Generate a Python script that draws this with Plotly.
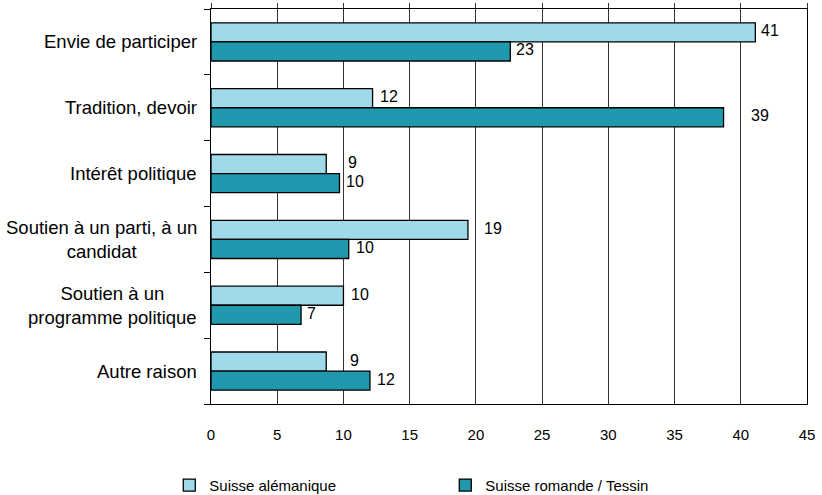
import plotly.graph_objects as go

# Motivation for voting, in percent
categories = [
    "Envie de participer",
    "Tradition, devoir",
    "Intérêt politique",
    "Soutien à un parti, à un<br>candidat",
    "Soutien à un<br>programme politique",
    "Autre raison",
]
series_names = ["Suisse alémanique", "Suisse romande / Tessin"]
values_de = [41.1, 12.2, 8.7, 19.4, 10.0, 8.7]
values_fr = [22.6, 38.7, 9.7, 10.4, 6.8, 12.0]
x_ticks = [0, 5, 10, 15, 20, 25, 30, 35, 40, 45]

# label placement nudges (pixels) to the right of each bar end
gap_de = [4, 5, 20, 14, 6, 22]
gap_fr = [4, 25, 5, 5, 4, 5]

color_de = "#9fd9ea"
color_fr = "#2098ae"
font_family = "Liberation Sans, Arial, sans-serif"

positions = list(range(len(categories)))
bar_w = 0.29

fig = go.Figure()
for name, vals, col in [(series_names[0], values_de, color_de),
                        (series_names[1], values_fr, color_fr)]:
    fig.add_trace(go.Bar(
        y=positions, x=vals, orientation="h", name=name,
        width=bar_w,
        marker=dict(color=col, line=dict(color="#000000", width=1.3)),
        hoverinfo="skip",
    ))

annotations = []
# value labels
for i in positions:
    for vals, gaps, off in [(values_de, gap_de, -bar_w / 2), (values_fr, gap_fr, bar_w / 2)]:
        annotations.append(dict(
            x=vals[i], y=i + off, xref="x", yref="y",
            text=str(round(vals[i])), showarrow=False,
            xanchor="left", yanchor="middle", xshift=gaps[i], yshift=1.5,
            font=dict(family=font_family, size=16, color="#000000"),
        ))
# centred category labels
for i, cat in enumerate(categories):
    annotations.append(dict(
        x=0, y=i, xref="paper", yref="y", text=cat, showarrow=False,
        xanchor="right", yanchor="middle", align="center", xshift=-12,
        font=dict(family=font_family, size=18.5, color="#000000"),
    ))

fig.update_layout(
    width=822, height=495,
    margin=dict(l=211, r=15, t=9, b=91, autoexpand=False),
    paper_bgcolor="#ffffff", plot_bgcolor="#ffffff",
    barmode="group", bargap=0.42, bargroupgap=0,
    font=dict(family=font_family, size=15, color="#000000"),
    showlegend=True,
    legend=dict(
        orientation="h", x=-0.07, xref="paper", y=-0.164, yanchor="top",
        xanchor="left", entrywidth=231, entrywidthmode="pixels",
        itemwidth=30, font=dict(family=font_family, size=15, color="#000000"),
        bgcolor="rgba(0,0,0,0)", traceorder="normal",
    ),
    annotations=annotations,
    xaxis=dict(
        range=[0, 45], tickvals=x_ticks, ticktext=[str(t) for t in x_ticks],
        showgrid=True, gridcolor="#333333", gridwidth=1,
        showline=True, linecolor="#000000", linewidth=1.3, mirror=True,
        ticks="", ticklabelstandoff=17, zeroline=False,
        tickfont=dict(family=font_family, size=15, color="#000000"),
        fixedrange=True,
    ),
    xaxis2=dict(
        overlaying="x", side="top", range=[0, 45], tickvals=x_ticks,
        showticklabels=False, ticks="outside", ticklen=5, tickcolor="#333333",
        showgrid=False, zeroline=False, showline=False,
    ),
    yaxis=dict(
        range=[len(categories) - 0.5, -0.5],
        tickvals=[p - 0.5 for p in positions] + [len(categories) - 0.5],
        showticklabels=False, ticks="outside", ticklen=6, tickcolor="#000000",
        showgrid=False, zeroline=False,
        showline=True, linecolor="#000000", linewidth=1.3, mirror=True,
        fixedrange=True,
    ),
)

# invisible trace that brings up the top tick axis
fig.add_trace(go.Scatter(x=[0], y=[0], xaxis="x2", mode="markers",
                         marker=dict(opacity=0), showlegend=False, hoverinfo="skip"))

fig.write_html("out.html")
